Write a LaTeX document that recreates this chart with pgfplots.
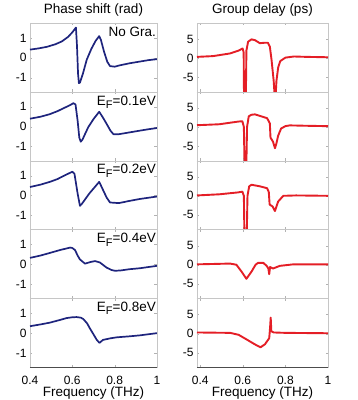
\documentclass[border=0pt]{standalone}
\usepackage{fontspec}
\setmainfont{Liberation Sans}
\usepackage{pgfplots}
\pgfplotsset{compat=1.18}

\definecolor{phaseblue}{RGB}{30,36,125}
\definecolor{gdred}{RGB}{228,30,38}

\newcommand{\tickfont}{\fontsize{12}{14}\selectfont}
\newcommand{\labfont}{\fontsize{13.5}{16}\selectfont}
\newcommand{\EF}{E\raisebox{-0.45ex}{\fontsize{11}{12}\selectfont F}}

\pgfplotsset{
  panel/.style={
    scale only axis, width=127pt, height=68.9pt,
    xmin=0.4, xmax=1, xtick={0.4,0.6,0.8,1}, xticklabels={},
    axis line style={gray!45, line width=0.5pt},
    tick align=inside, major tick length=2.5pt,
    tick style={gray!60},
    ticklabel style={font=\tickfont},
    x tick label style={yshift=-5pt},
    title style={at={(0.5,1)}, anchor=base, yshift=3.5pt, font=\labfont},
    xlabel style={at={(0.5,0)}, anchor=north, yshift=-19pt, inner sep=0pt, font=\labfont},
    extra description/.code={\draw[black!70, line width=0.5pt] (0,0) -- (1,0);},
  },
  phase/.style={panel, ymin=-1.72, ymax=1.75, ytick={-1,0,1}, yticklabels={-1,0,1}},
  gd/.style={panel, width=131pt, xmin=0.385, ymin=-8.9, ymax=9.2, ytick={-5,0,5}, yticklabels={-5,0,5}},
  bottom/.style={xticklabels={0.4,0.6,0.8,1}, xlabel={Frequency (THz)}},
  pline/.style={phaseblue, line width=1.7pt, line join=round, mark=none},
  rline/.style={gdred, line width=1.9pt, line join=round, mark=none},
}
\newcommand{\paneltag}[1]{\node[anchor=north east, inner sep=1pt, yshift=-2.5pt, font=\labfont] at (rel axis cs:1,1) {#1};}

\begin{document}
\begin{tikzpicture}
\useasboundingbox (0,0) rectangle (358pt,400pt);

% ---------- phase shift column ----------
\begin{axis}[phase, at={(30pt,308.1pt)}, anchor=south west, title={Phase shift (rad)}]
\addplot[pline] coordinates {(0.40,0.41) (0.44,0.47) (0.48,0.55) (0.52,0.68) (0.55,0.82) (0.58,1.05) (0.60,1.28) (0.617,1.52) (0.622,0.6) (0.627,-0.8) (0.631,-1.28) (0.636,-1.25) (0.65,-0.8) (0.668,-0.1) (0.69,0.45) (0.71,0.85) (0.727,1.09) (0.735,0.9) (0.75,0.3) (0.765,-0.2) (0.778,-0.42) (0.80,-0.45) (0.825,-0.38) (0.87,-0.28) (0.92,-0.19) (0.96,-0.12) (1.0,-0.07)};
\paneltag{No Gra.}
\end{axis}

\begin{axis}[phase, at={(30pt,239.2pt)}, anchor=south west]
\addplot[pline] coordinates {(0.40,0.4) (0.45,0.5) (0.494,0.63) (0.53,0.78) (0.557,0.92) (0.585,1.06) (0.605,1.18) (0.615,1.12) (0.625,0.3) (0.633,-0.56) (0.64,-0.76) (0.648,-0.65) (0.675,-0.03) (0.70,0.38) (0.727,0.75) (0.745,0.45) (0.762,0.14) (0.78,-0.2) (0.794,-0.38) (0.82,-0.38) (0.87,-0.29) (0.92,-0.2) (0.96,-0.13) (1.0,-0.07)};
\paneltag{\EF=0.1eV}
\end{axis}

\begin{axis}[phase, at={(30pt,170.3pt)}, anchor=south west]
\addplot[pline] coordinates {(0.40,0.43) (0.45,0.55) (0.494,0.69) (0.53,0.83) (0.557,0.98) (0.60,1.2) (0.61,1.1) (0.625,0.1) (0.636,-0.52) (0.645,-0.42) (0.68,0.1) (0.727,0.69) (0.746,0.26) (0.762,-0.1) (0.778,-0.35) (0.82,-0.38) (0.87,-0.27) (0.92,-0.17) (1.0,-0.05)};
\paneltag{\EF=0.2eV}
\end{axis}

\begin{axis}[phase, at={(30pt,101.4pt)}, anchor=south west]
\addplot[pline] coordinates {(0.40,0.33) (0.45,0.45) (0.494,0.58) (0.54,0.72) (0.589,0.85) (0.60,0.83) (0.613,0.72) (0.625,0.45) (0.636,0.25) (0.66,0.04) (0.685,0.12) (0.707,0.17) (0.73,0.1) (0.762,-0.16) (0.785,-0.28) (0.802,-0.32) (0.83,-0.3) (0.87,-0.24) (0.92,-0.19) (1.0,-0.07)};
\paneltag{\EF=0.4eV}
\end{axis}

\begin{axis}[phase, bottom, at={(30pt,32.5pt)}, anchor=south west]
\addplot[pline] coordinates {(0.40,0.36) (0.45,0.45) (0.494,0.54) (0.54,0.67) (0.573,0.77) (0.60,0.81) (0.62,0.82) (0.64,0.79) (0.652,0.72) (0.67,0.5) (0.683,0.25) (0.70,-0.05) (0.715,-0.32) (0.728,-0.48) (0.745,-0.33) (0.78,-0.25) (0.81,-0.2) (0.87,-0.15) (0.92,-0.1) (1.0,0.01)};
\paneltag{\EF=0.8eV}
\end{axis}

% ---------- group delay column ----------
\begin{axis}[gd, at={(197pt,308.1pt)}, anchor=south west, title={Group delay (ps)}]
\addplot[rline] coordinates {(0.385,0.3) (0.46,0.5) (0.54,1.2) (0.578,1.9) (0.599,2.5) (0.604,1.5) (0.606,-12) (0.614,-12) (0.617,2) (0.625,4.3) (0.641,4.9) (0.657,4.7) (0.68,3.9) (0.70,4.0) (0.718,4.0) (0.727,3.0) (0.735,-0.5) (0.745,-6) (0.752,-12) (0.758,-6) (0.766,-2.5) (0.776,-0.8) (0.80,0.1) (0.84,0.4) (0.9,0.3) (1.0,0.2)};
\end{axis}

\begin{axis}[gd, at={(197pt,239.2pt)}, anchor=south west]
\addplot[rline] coordinates {(0.385,0.45) (0.49,0.7) (0.578,1.4) (0.598,1.5) (0.605,0) (0.609,-12) (0.616,-12) (0.62,0) (0.628,2.8) (0.641,3.2) (0.657,3.3) (0.68,2.9) (0.714,2.3) (0.722,1.5) (0.727,0.9) (0.73,-2.8) (0.742,-3.9) (0.751,-5.6) (0.757,-4.5) (0.766,-2.3) (0.78,-0.4) (0.80,0.2) (0.82,0.4) (0.9,0.3) (1.0,0.2)};
\end{axis}

\begin{axis}[gd, at={(197pt,170.3pt)}, anchor=south west]
\addplot[rline] coordinates {(0.385,0.1) (0.49,0.4) (0.578,0.9) (0.598,1.1) (0.605,0) (0.608,-12) (0.618,-12) (0.622,0) (0.63,2.5) (0.641,2.9) (0.68,2.5) (0.714,2.0) (0.722,1.0) (0.726,-2.3) (0.74,-2.8) (0.751,-4.0) (0.766,-1.5) (0.79,0) (0.85,0.1) (1.0,0.0)};
\end{axis}

\begin{axis}[gd, at={(197pt,101.4pt)}, anchor=south west]
\addplot[rline] coordinates {(0.385,0.1) (0.54,0.3) (0.57,0.0) (0.594,-1.8) (0.617,-3.7) (0.641,-1.8) (0.66,0.0) (0.672,0.5) (0.696,0.5) (0.712,-0.3) (0.72,-1.0) (0.724,-2.5) (0.728,-0.6) (0.742,-1.0) (0.76,-0.6) (0.774,-0.3) (0.837,0.1) (1.0,0.1)};
\end{axis}

\begin{axis}[gd, bottom, at={(197pt,32.5pt)}, anchor=south west]
\addplot[rline] coordinates {(0.385,0.3) (0.54,0.2) (0.58,-0.3) (0.617,-1.5) (0.656,-2.8) (0.683,-3.6) (0.704,-2.8) (0.724,-1.2) (0.728,1.5) (0.731,4.2) (0.734,0.6) (0.745,0.3) (0.8,0.2) (1.0,0.1)};
\end{axis}

\end{tikzpicture}
\end{document}
